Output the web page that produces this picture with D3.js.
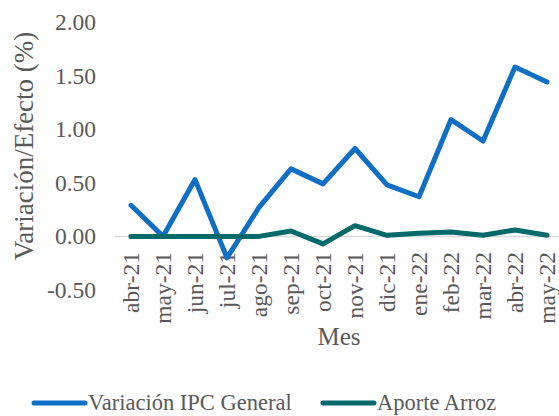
<!DOCTYPE html>
<html>
<head>
<meta charset="utf-8">
<script src="https://cdn.jsdelivr.net/npm/d3@7"></script>
<style>
  body { margin: 0; background: #fff; }
</style>
</head>
<body>
<svg id="chart" width="559" height="416"></svg>
<script>
// data
const months = ['abr-21','may-21','jun-21','jul-21','ago-21','sep-21','oct-21','nov-21','dic-21','ene-22','feb-22','mar-22','abr-22','may-22']
const ipcGeneral = [0.29, 0.00, 0.53, -0.20, 0.27, 0.63, 0.49, 0.82, 0.48, 0.37, 1.09, 0.89, 1.58, 1.44]
const aporteArroz = [0.00, 0.00, 0.00, 0.00, 0.00, 0.05, -0.07, 0.10, 0.01, 0.03, 0.04, 0.01, 0.06, 0.01]
const yTicks = [-0.5, 0, 0.5, 1, 1.5, 2]
const seriesNames = ['Variación IPC General', 'Aporte Arroz']
const colors = ['#0f6fc6', '#00696a']

const serif = '"Liberation Serif"'
const textColor = '#595959'
const svg = d3.select('#chart')

// plot area
const plotLeft = 115, plotTop = 22, plotBottom = 290
const step = 32

const x = d3.scaleBand()
    .domain(months)
    .range([plotLeft, plotLeft + step * months.length])

const y = d3.scaleLinear()
    .domain([-0.5, 2])
    .range([plotBottom, plotTop])

// zero line
svg.append('line')
    .attr('x1', x.range()[0])
    .attr('x2', x.range()[1])
    .attr('y1', y(0))
    .attr('y2', y(0))
    .attr('stroke', '#d9d9d9')
    .attr('stroke-width', 1.5)

// y axis labels
const yAxis = d3.axisLeft(y)
    .tickValues(yTicks)
    .tickFormat(d => d3.format('.2f')(d).replace('−', '-'))
    .tickSize(0)
    .tickPadding(0)

const yg = svg.append('g')
    .attr('transform', `translate(96,0)`)
    .call(yAxis)
yg.select('.domain').remove()
yg.selectAll('text')
    .style('font-family', serif)
    .style('font-size', '23.5px')
    .attr('fill', textColor)

// x axis labels, rotated
const xAxis = d3.axisBottom(x).tickSize(0).tickPadding(0)
const xg = svg.append('g')
    .attr('transform', `translate(0,${plotBottom})`)
    .call(xAxis)
xg.select('.domain').remove()
xg.selectAll('text')
    .style('font-family', serif)
    .style('font-size', '23.5px')
    .attr('fill', textColor)
    .attr('text-anchor', 'end')
    .attr('transform', 'rotate(-90)')
    .attr('x', plotBottom - 252)
    .attr('y', 0)
    .attr('dy', '0.35em')

// lines
const line = d3.line()
    .x((d, i) => x(months[i]) + x.bandwidth() / 2)
    .y(d => y(d))

// IPC first so Arroz sits on top at zero, like the reference
svg.append('path')
    .datum(ipcGeneral)
    .attr('d', line)
    .attr('fill', 'none')
    .attr('stroke', colors[0])
    .attr('stroke-width', 5)
    .attr('stroke-linejoin', 'round')
    .attr('stroke-linecap', 'round')

svg.append('path')
    .datum(aporteArroz)
    .attr('d', line)
    .attr('fill', 'none')
    .attr('stroke', colors[1])
    .attr('stroke-width', 5)
    .attr('stroke-linejoin', 'round')
    .attr('stroke-linecap', 'round')

// axis titles
svg.append('text')
    .attr('transform', `translate(24,146) rotate(-90)`)
    .attr('text-anchor', 'middle')
    .attr('dy', '0.35em')
    .attr('fill', textColor)
    .style('font-family', serif)
    .style('font-size', '27px')
    .text('Variación/Efecto (%)')

svg.append('text')
    .attr('x', 339)
    .attr('y', 336)
    .attr('text-anchor', 'middle')
    .attr('dy', '0.35em')
    .attr('fill', textColor)
    .style('font-family', serif)
    .style('font-size', '25px')
    .text('Mes')

// legend
const legendX = [34, 323]
seriesNames.forEach((name, i) => {
    const lg = svg.append('g').attr('transform', `translate(${legendX[i]},403)`)
    lg.append('line')
        .attr('x1', 0).attr('x2', 51)
        .attr('y1', 0).attr('y2', 0)
        .attr('stroke', colors[i])
        .attr('stroke-width', 5)
        .attr('stroke-linecap', 'round')
    lg.append('text')
        .attr('x', 54)
        .attr('dy', '0.32em')
        .attr('fill', textColor)
        .style('font-family', serif)
        .style('font-size', '22.5px')
        .text(name)
})
</script>
</body>
</html>
